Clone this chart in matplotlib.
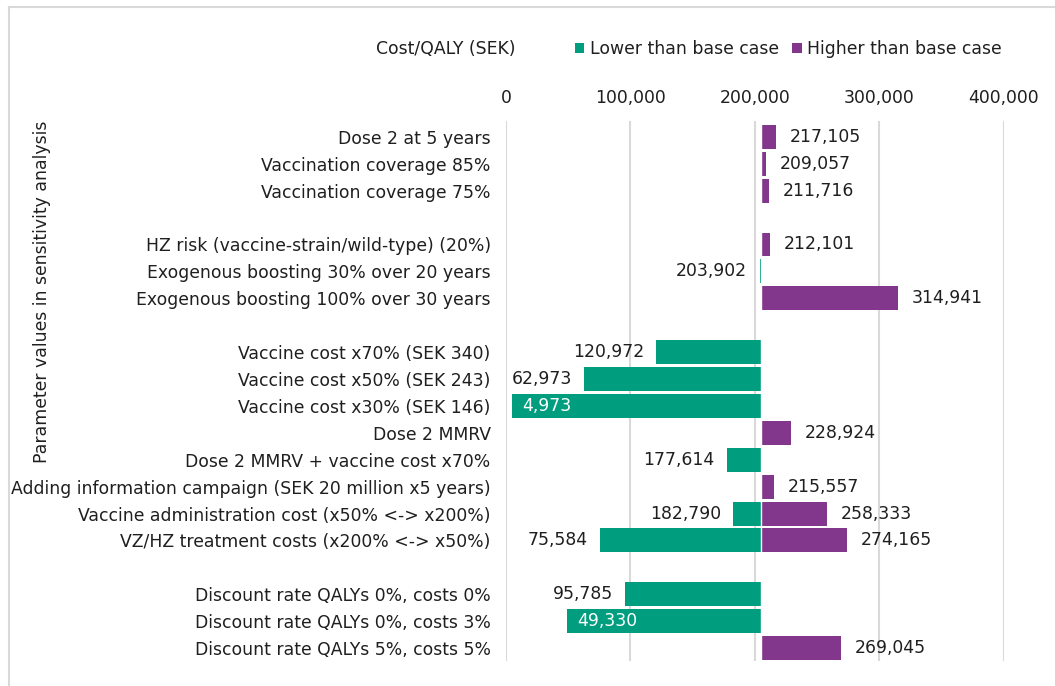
import matplotlib
matplotlib.use("Agg")
import matplotlib.pyplot as plt
from matplotlib.patches import Patch
from matplotlib.lines import Line2D

# ---------------- data ----------------
categories = [
    "Dose 2 at 5 years",
    "Vaccination coverage 85%",
    "Vaccination coverage 75%",
    "HZ risk (vaccine-strain/wild-type) (20%)",
    "Exogenous boosting 30% over 20 years",
    "Exogenous boosting 100% over 30 years",
    "Vaccine cost x70% (SEK 340)",
    "Vaccine cost x50% (SEK 243)",
    "Vaccine cost x30% (SEK 146)",
    "Dose 2 MMRV",
    "Dose 2 MMRV + vaccine cost x70%",
    "Adding information campaign (SEK 20 million x5 years)",
    "Vaccine administration cost (x50% <-> x200%)",
    "VZ/HZ treatment costs (x200% <-> x50%)",
    "Discount rate QALYs 0%, costs 0%",
    "Discount rate QALYs 0%, costs 3%",
    "Discount rate QALYs 5%, costs 5%",
]
group_sizes = [3, 3, 8, 3]
lower_values = [None, None, None, None, 203902, None, 120972, 62973, 4973,
                None, 177614, None, 182790, 75584, 95785, 49330, None]
higher_values = [217105, 209057, 211716, 212101, None, 314941, None, None, None,
                 228924, None, 215557, 258333, 274165, None, None, 269045]
base_case = 205000  # estimated base-case cost/QALY (SEK)
x_ticks = [0, 100000, 200000, 300000, 400000]
x_labels = ["0", "100,000", "200,000", "300,000", "400,000"]
legend_title = "Cost/QALY (SEK)"
series_names = ["Lower than base case", "Higher than base case"]
y_title = "Parameter values in sensitivity analysis"

# ---------------- style ----------------
GREEN = "#009E7E"
PURPLE = "#83378C"
TEXT = "#1F1F1F"
GRID = "#D9D9D9"
FS = 12.4
plt.rcParams["font.family"] = ["DejaVu Sans"]

W, H = 1055, 686
fig = plt.figure(figsize=(W / 100, H / 100), dpi=100)
ax = fig.add_axes([506 / W, 1 - 661 / H, (1003.5 - 506) / W, (661 - 121) / H])

# row positions with one blank row between groups
rows = []
r = 0
for g in group_sizes:
    for _ in range(g):
        rows.append(r)
        r += 1
    r += 1
last_row = rows[-1]

for y, lo, hi in zip(rows, lower_values, higher_values):
    if lo is not None:
        ax.barh(y, lo - base_case, left=base_case, height=0.89, color=GREEN,
                edgecolor="none", linewidth=0, zorder=3)
        if lo < 55000:
            ax.annotate(f"{lo:,}", (lo, y), xytext=(7, 0), textcoords="offset points",
                        ha="left", va="center", fontsize=FS, color="white", zorder=4)
        else:
            ax.annotate(f"{lo:,}", (lo, y), xytext=(-9, 0), textcoords="offset points",
                        ha="right", va="center", fontsize=FS, color=TEXT, zorder=4)
    if hi is not None:
        ax.barh(y, hi - base_case, left=base_case, height=0.89, color=PURPLE,
                edgecolor="none", linewidth=0, zorder=3)
        ax.annotate(f"{hi:,}", (hi, y), xytext=(10, 0), textcoords="offset points",
                    ha="left", va="center", fontsize=FS, color=TEXT, zorder=4)

# thin white separator at the base case, as in the reference
ax.axvline(base_case, color="white", linewidth=1.0, zorder=3.5)

ax.set_xlim(0, 400000)
ax.set_ylim(last_row + 0.48, -0.59)
ax.set_yticks(rows)
ax.set_yticklabels(categories, fontsize=FS, color=TEXT)
ax.set_xticks(x_ticks)
ax.set_xticklabels(x_labels, fontsize=FS, color=TEXT)
ax.xaxis.tick_top()
ax.tick_params(axis="x", length=0, pad=10)
ax.tick_params(axis="y", length=0, pad=11)
ax.grid(axis="x", color=GRID, linewidth=1.5, zorder=0)
ax.set_axisbelow(True)
for s in ax.spines.values():
    s.set_visible(False)

# y title
fig.text(42 / W, 1 - 292 / H, y_title, rotation=90, ha="center", va="center",
         fontsize=FS, color=TEXT)

# legend row
fig.text(446 / W, 1 - 49 / H, legend_title, ha="center", va="center",
         fontsize=FS, color=TEXT)
handles = [Patch(facecolor=GREEN, edgecolor="none"), Patch(facecolor=PURPLE, edgecolor="none")]
fig.legend(handles, series_names, loc="center left", bbox_to_anchor=(575 / W, 1 - 49 / H),
           ncol=2, frameon=False, fontsize=FS, handlelength=0.55, handleheight=0.55,
           handletextpad=0.3, columnspacing=0.8, labelcolor=TEXT, borderaxespad=0,
           borderpad=0)

# outer chart border (partially visible)
fig.add_artist(Line2D([9 / W, 9 / W], [0, 1 - 7 / H], color=GRID, linewidth=1.5,
                      transform=fig.transFigure))
fig.add_artist(Line2D([9 / W, 1], [1 - 7 / H, 1 - 7 / H], color=GRID, linewidth=1.5,
                      transform=fig.transFigure))

fig.savefig("out.png", dpi=100)
